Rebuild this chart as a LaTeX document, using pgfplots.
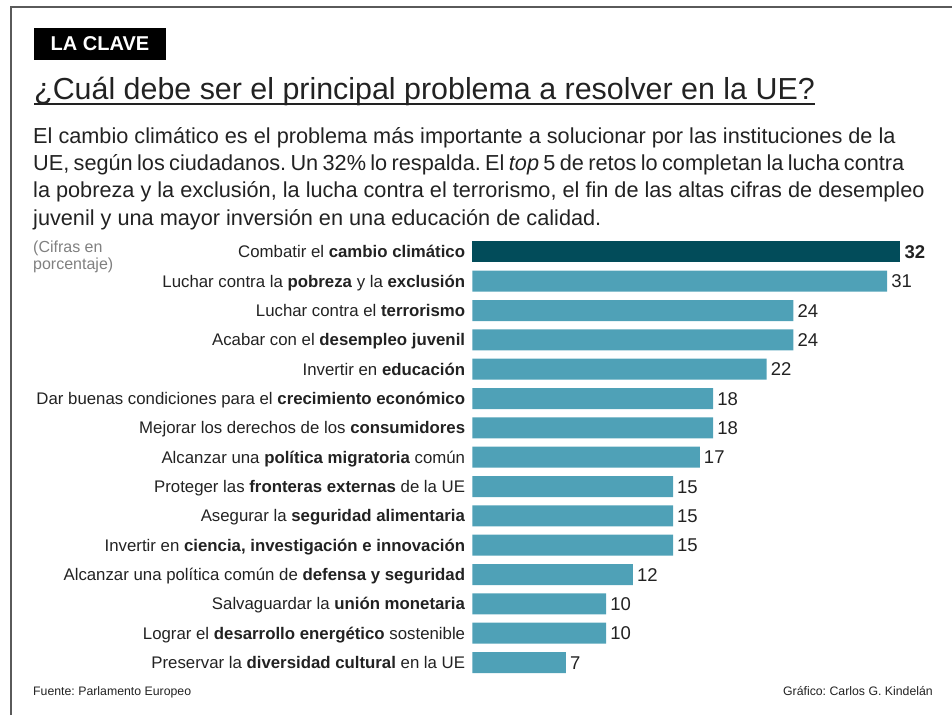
\documentclass[border=0pt]{standalone}
\usepackage{fontspec}
\setmainfont{Liberation Sans}
\usepackage{pgfplots}
\pgfplotsset{compat=1.18}
\frenchspacing

\definecolor{darkbar}{RGB}{2,76,90}
\definecolor{lightbar}{RGB}{79,161,183}
\definecolor{txt}{RGB}{34,34,34}
\definecolor{soft}{RGB}{128,128,128}
\definecolor{frame}{RGB}{90,90,90}

\begin{document}
\begin{tikzpicture}[x=1pt,y=1pt]
\useasboundingbox (0,0) rectangle (952,-715);

% frame
\draw[frame, line width=1.8pt] (11,-715) -- (11,-7) -- (952,-7);

% header
\fill[black] (34,-28) rectangle (166,-60);
\node[anchor=center, inner sep=0pt, text=white, font=\fontsize{20}{22}\selectfont\bfseries]
  at (100,-44) {LA CLAVE};
\node[anchor=base west, inner sep=0pt, text=txt, font=\fontsize{30.4}{34}\selectfont] (title)
  at (34,-99) {¿Cuál debe ser el principal problema a resolver en la UE?};
\draw[txt, line width=1.8pt] ([yshift=-5pt]title.base west) -- ([yshift=-5pt]title.base east);

% body text
\begin{scope}[every node/.style={anchor=base west, inner sep=0pt, text=txt, font=\fontsize{21.7}{25}\selectfont}]
\node at (33,-143) {El cambio climático es el problema más importante a solucionar por las instituciones de la};
\node at (33,-170.3) {\spaceskip=0.2em UE, según los ciudadanos. Un 32\% lo respalda. El \textit{top} 5 de retos lo completan la lucha contra};
\node at (33,-197.6) {la pobreza y la exclusión, la lucha contra el terrorismo, el fin de las altas cifras de desempleo};
\node at (33,-225) {juvenil y una mayor inversión en una educación de calidad.};
\end{scope}

\node[anchor=base west, inner sep=0pt, text=soft, font=\fontsize{16}{18}\selectfont] at (33,-252) {(Cifras en};
\node[anchor=base west, inner sep=0pt, text=soft, font=\fontsize{16}{18}\selectfont] at (33,-269) {porcentaje)};

% footer
\node[anchor=base west, inner sep=0pt, text=txt, font=\fontsize{12.3}{14}\selectfont] at (33,-695) {Fuente: Parlamento Europeo};
\node[anchor=base east, inner sep=0pt, text=txt, font=\fontsize{12.3}{14}\selectfont] at (933,-695) {Gráfico: Carlos G. Kindelán};

\begin{axis}[
    at={(472.3pt,-237.2pt)}, anchor=north west,
    scale only axis,
    width=468.3pt, height=440pt,
    xbar,
    xmin=0, xmax=35,
    ymin=-0.5, ymax=14.5,
    y dir=reverse,
    axis line style={draw=none},
    major tick length=0pt,
    xtick=\empty,
    ytick={0,...,14},
    yticklabels={
      {Combatir el \textbf{cambio climático}},
      {Luchar contra la \textbf{pobreza} y la \textbf{exclusión}},
      {Luchar contra el \textbf{terrorismo}},
      {Acabar con el \textbf{desempleo juvenil}},
      {Invertir en \textbf{educación}},
      {Dar buenas condiciones para el \textbf{crecimiento económico}},
      {Mejorar los derechos de los \textbf{consumidores}},
      {Alcanzar una \textbf{política migratoria} común},
      {Proteger las \textbf{fronteras externas} de la UE},
      {Asegurar la \textbf{seguridad alimentaria}},
      {Invertir en \textbf{ciencia, investigación e innovación}},
      {Alcanzar una política común de \textbf{defensa y seguridad}},
      {Salvaguardar la \textbf{unión monetaria}},
      {Lograr el \textbf{desarrollo energético} sostenible},
      {Preservar la \textbf{diversidad cultural} en la UE}
    },
    yticklabel style={anchor=base east, inner sep=0pt, xshift=-7pt, yshift=-5.9pt,
      text=txt, font=\fontsize{16.8}{19}\selectfont},
    /pgf/number format/assume math mode=true,
    nodes near coords,
    every node near coord/.append style={anchor=base west, inner sep=0pt,
      xshift=4pt, yshift=-6.5pt, text=txt, font=\fontsize{18.5}{21}\selectfont},
    clip=false,
]
\addplot[fill=darkbar, draw=none, bar shift=0pt, bar width=21pt,
  every node near coord/.append style={font=\fontsize{18.5}{21}\selectfont\bfseries}]
  coordinates {(32,0)};
\addplot[fill=lightbar, draw=none, bar shift=0pt, bar width=21pt]
  coordinates {
    (31,1) (24,2) (24,3) (22,4) (18,5) (18,6) (17,7)
    (15,8) (15,9) (15,10) (12,11) (10,12) (10,13) (7,14)
  };
\end{axis}
\end{tikzpicture}
\end{document}
